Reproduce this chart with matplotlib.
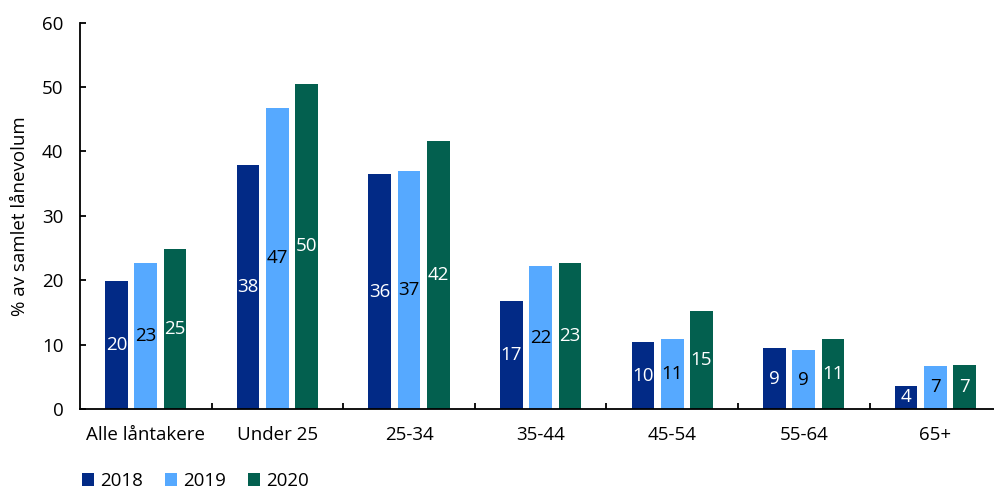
import numpy as np
import matplotlib
matplotlib.use("Agg")
import matplotlib.pyplot as plt

plt.rcParams["font.family"] = ["Open Sans", "DejaVu Sans"]

categories = ["Alle låntakere", "Under 25", "25-34", "35-44", "45-54", "55-64", "65+"]
years = ["2018", "2019", "2020"]
v2018 = [19.9, 37.9, 36.5, 16.7, 10.4, 9.4, 3.6]
v2019 = [22.7, 46.8, 37.0, 22.2, 10.9, 9.1, 6.7]
v2020 = [24.85, 50.5, 41.6, 22.6, 15.2, 10.9, 6.9]
colors = ["#022A86", "#56A9FF", "#03604F"]
label_colors = ["white", "black", "white"]

W, H = 995, 492
FS = 13.5
fig = plt.figure(figsize=(W / 100, H / 100), dpi=100)
ax = fig.add_axes([80 / W, (H - 409) / H, (W - 80) / W, (409 - 22.7) / H])

x = np.arange(len(categories))
step = 0.2226
width = 0.172
for i, (vals, col, lc) in enumerate(zip([v2018, v2019, v2020], colors, label_colors)):
    pos = x + (i - 1) * step
    ax.bar(pos, vals, width=width, color=col, label=years[i], zorder=2)
    for p, v in zip(pos, vals):
        ax.text(p, v / 2, f"{v:.0f}", ha="center", va="center", color=lc, fontsize=FS)

ax.set_ylim(0, 60)
ax.set_xlim(-0.5, -0.5 + (W - 80) / 131.6)
ax.set_yticks(range(0, 61, 10))
ax.set_xticks(x)
ax.set_xticklabels(categories)
ax.set_xticks(x[:-1] + 0.5, minor=True)
for s in ["top", "right"]:
    ax.spines[s].set_visible(False)
for s in ["left", "bottom"]:
    ax.spines[s].set_linewidth(1.3)
ax.tick_params(axis="y", direction="in", length=4.5, width=1.3, labelsize=FS, pad=12)
ax.tick_params(axis="x", which="major", length=0, labelsize=FS, pad=12)
ax.tick_params(axis="x", which="minor", direction="in", length=4.5, width=1.3)
ax.set_ylabel("% av samlet lånevolum", fontsize=FS, labelpad=9)

fig.legend(loc="lower left", bbox_to_anchor=(65 / W, -0.03), ncol=3, frameon=False,
           fontsize=FS, handlelength=0.65, handleheight=0.65, handletextpad=0.3,
           columnspacing=1.2)

fig.savefig("out.png", dpi=100)
